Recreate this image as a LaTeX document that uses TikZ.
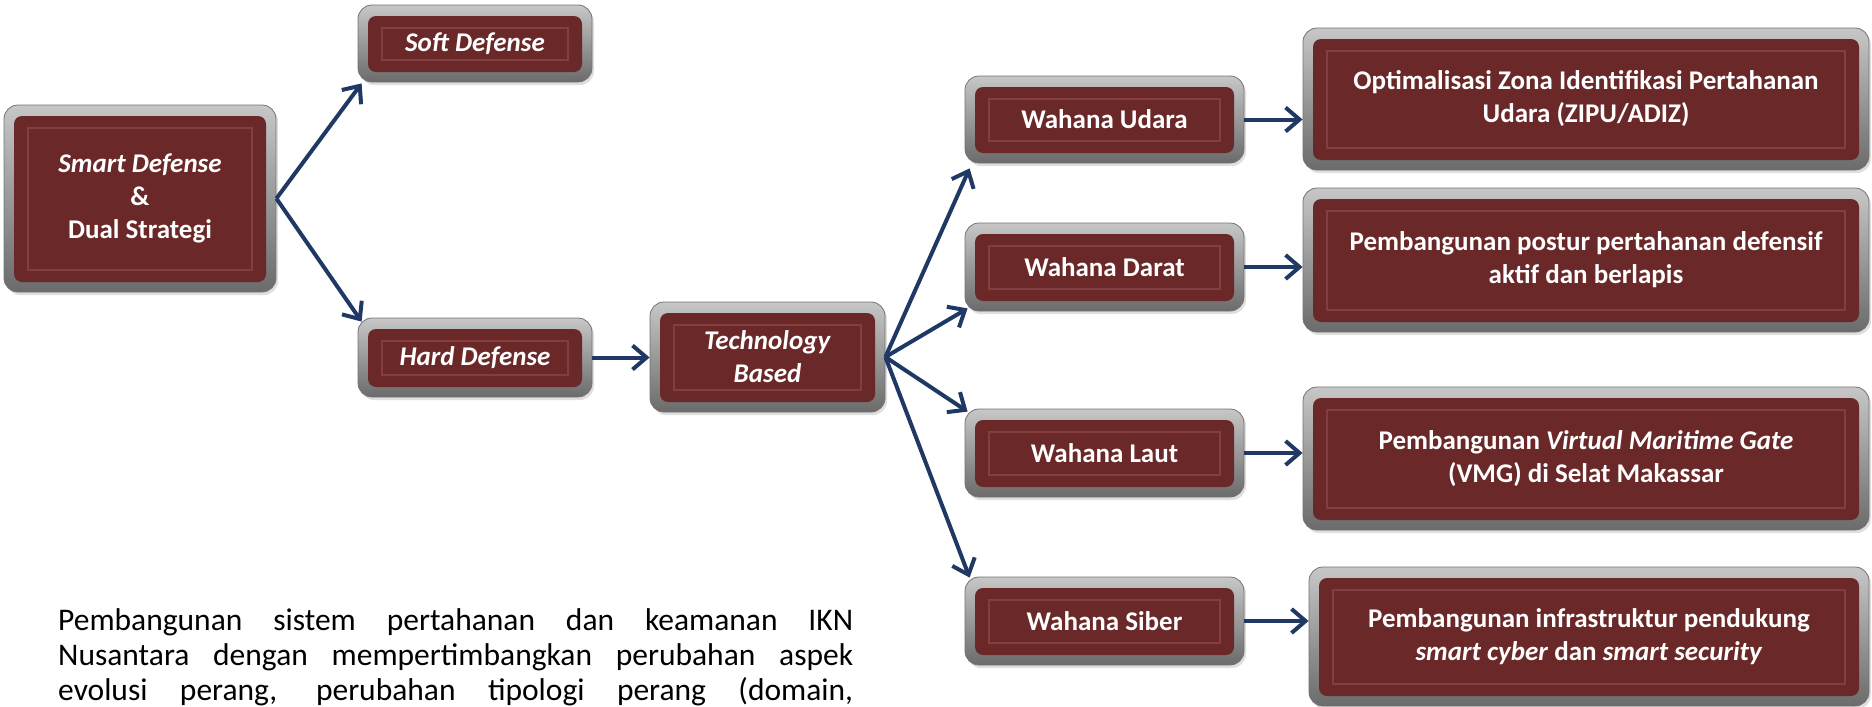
\documentclass[tikz,border=0pt]{standalone}
\usepackage{fontspec}
\setmainfont{Carlito}
\usetikzlibrary{arrows.meta,shadows}
\definecolor{boxred}{RGB}{106,40,40}
\definecolor{boxline}{RGB}{132,62,62}
\definecolor{arrowblue}{RGB}{31,56,100}
\begin{document}
\begin{tikzpicture}[x=1pt,y=-1pt,
    box/.style={rounded corners=14pt, top color=black!22, bottom color=black!58,
      draw=black!55, line width=0.8pt,
      drop shadow={opacity=0.25,shadow xshift=2pt,shadow yshift=-3pt},
      text=white, align=center, inner sep=0pt,
      font=\fontsize{27}{33}\selectfont\bfseries,
      path picture={
        \fill[boxred, rounded corners=8pt]
          ([shift={(10pt,10pt)}]path picture bounding box.south west) rectangle
          ([shift={(-10pt,-11pt)}]path picture bounding box.north east);
        \draw[boxline, line width=1.2pt, sharp corners]
          ([shift={(24pt,22pt)}]path picture bounding box.south west) rectangle
          ([shift={(-24pt,-23pt)}]path picture bounding box.north east);
      }},
    arr/.style={draw=arrowblue, line width=4pt, -{Straight Barb[length=14pt,width=24pt]}}]
    \useasboundingbox (0,0) rectangle (1872,707);

    % left part
    \node[box, minimum width=272pt, minimum height=187pt] (smart) at (140,198.5)
        {\textit{Smart Defense}\\\&\\Dual Strategi};
    \node[box, minimum width=234pt, minimum height=77pt] (soft) at (475,43.5) {\textit{Soft Defense}};
    \node[box, minimum width=234pt, minimum height=79pt] (hard) at (475,357.5) {\textit{Hard Defense}};
    \node[box, minimum width=235pt, minimum height=110pt] (tech) at (767.5,357) {\textit{Technology}\\\textit{Based}};

    % wahana
    \node[box, minimum width=279pt, minimum height=87pt] (udara) at (1104.5,119.5) {Wahana Udara};
    \node[box, minimum width=279pt, minimum height=88pt] (darat) at (1104.5,267) {Wahana Darat};
    \node[box, minimum width=279pt, minimum height=88pt] (laut) at (1104.5,453) {Wahana Laut};
    \node[box, minimum width=279pt, minimum height=88pt] (siber) at (1104.5,621) {Wahana Siber};

    % programs
    \node[box, minimum width=566pt, minimum height=142pt] (opt) at (1586,99)
        {Optimalisasi Zona Identifikasi Pertahanan\\Udara (ZIPU/ADIZ)};
    \node[box, minimum width=566pt, minimum height=144pt] (postur) at (1586,260)
        {Pembangunan postur pertahanan defensif\\aktif dan berlapis};
    \node[box, minimum width=566pt, minimum height=143pt] (vmg) at (1586,458.5)
        {Pembangunan \textit{Virtual Maritime Gate}\\(VMG) di Selat Makassar};
    \node[box, minimum width=560pt, minimum height=139pt] (infra) at (1589,636.5)
        {Pembangunan infrastruktur pendukung\\\textit{smart cyber} dan \textit{smart security}};

    % arrows
    \draw[arr] (smart.east) -- ([xshift=4pt,yshift=-1pt]soft.south west);
    \draw[arr] (smart.east) -- ([xshift=4pt,yshift=-4pt]hard.north west);
    \draw[arr] (hard.east) -- (hard.east -| tech.west);
    \draw[arr] (tech.east) -- ([xshift=5pt,yshift=-5pt]udara.south west);
    \draw[arr] (tech.east) -- ([xshift=3pt,yshift=3pt]darat.south west);
    \draw[arr] (tech.east) -- ([xshift=3pt,yshift=-3pt]laut.north west);
    \draw[arr] (tech.east) -- ([xshift=5pt,yshift=-1pt]siber.north west);
    \foreach \w/\r in {udara/opt,darat/postur,laut/vmg,siber/infra}
        \draw[arr] (\w.east) -- (\w.east -| \r.west);

    \node[anchor=north west, inner sep=0pt, align=left,
          font=\fontsize{31.5}{35}\selectfont] (para) at (58,608)
        {\makebox[795pt][s]{Pembangunan sistem pertahanan dan keamanan IKN}\\
         \makebox[795pt][s]{Nusantara dengan mempertimbangkan perubahan aspek}\\
         \makebox[795pt][s]{evolusi perang, perubahan tipologi perang (domain,}};
\end{tikzpicture}
\end{document}
